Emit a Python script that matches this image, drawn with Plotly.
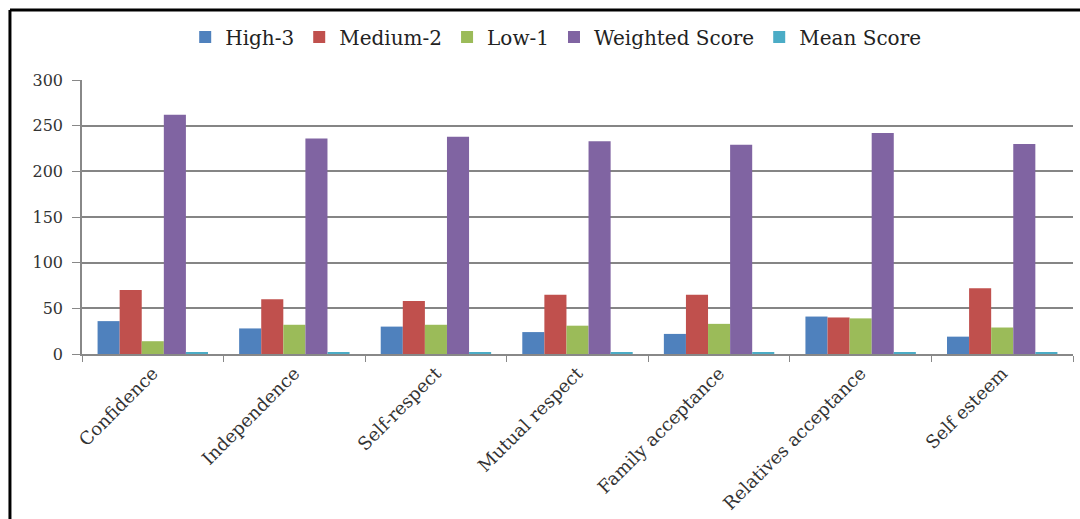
import plotly.graph_objects as go

# Attributes rated by respondents
categories = ["Confidence", "Independence", "Self-respect", "Mutual respect",
              "Family acceptance", "Relatives acceptance", "Self esteem"]

high_3 = [36, 28, 30, 24, 22, 41, 19]
medium_2 = [70, 60, 58, 65, 65, 40, 72]
low_1 = [14, 32, 32, 31, 33, 39, 29]
weighted_score = [262, 236, 238, 233, 229, 242, 230]
mean_score = [2.18, 1.97, 1.98, 1.94, 1.91, 2.02, 1.92]

y_ticks = [0, 50, 100, 150, 200, 250, 300]

series = [
    ("High-3", high_3, "#4F81BD"),
    ("Medium-2", medium_2, "#C0504D"),
    ("Low-1", low_1, "#9BBB59"),
    ("Weighted Score", weighted_score, "#8064A2"),
    ("Mean Score", mean_score, "#4BACC6"),
]

fig = go.Figure()
for name, vals, color in series:
    fig.add_trace(go.Bar(x=categories, y=vals, name=name,
                         marker=dict(color=color, line=dict(width=0))))

serif = "DejaVu Serif, Liberation Serif, serif"

fig.update_layout(
    width=1080, height=519,
    paper_bgcolor="white", plot_bgcolor="white",
    margin=dict(l=82, r=7, t=80, b=165, autoexpand=False),
    barmode="group", bargap=0.22, bargroupgap=0,
    font=dict(family=serif, size=16, color="#333333"),
    legend=dict(orientation="h", x=0.478, xanchor="center", y=1.157, yanchor="middle",
                font=dict(family=serif, size=20, color="#222222"),
                bgcolor="rgba(0,0,0,0)", itemwidth=30, traceorder="normal"),
    showlegend=True,
)

fig.update_xaxes(
    type="category", tickangle=-45, tickson="boundaries",
    ticks="outside", ticklen=6, tickcolor="#888888",
    showline=True, linecolor="#888888", linewidth=1.5,
    showgrid=False,
    tickfont=dict(family=serif, size=18, color="#333333"),
)
fig.update_yaxes(
    range=[0, 300], tickvals=y_ticks,
    ticks="outside", ticklen=8, tickcolor="#888888",
    showline=True, linecolor="#888888", linewidth=1.5,
    showgrid=True, gridcolor="#858585", gridwidth=1.5,
    zeroline=False,
    tickfont=dict(family=serif, size=16, color="#333333"),
    ticklabelstandoff=6,
)

# Outer frame: left and top edges
frame = dict(color="black", width=3)
fig.add_shape(type="line", xref="paper", yref="paper",
              x0=-0.0727, x1=-0.0727, y0=1.2555, y1=-0.61, line=frame)
fig.add_shape(type="line", xref="paper", yref="paper",
              x0=-0.0727, x1=1.01, y0=1.2555, y1=1.2555, line=frame)

fig.write_html("out.html")
